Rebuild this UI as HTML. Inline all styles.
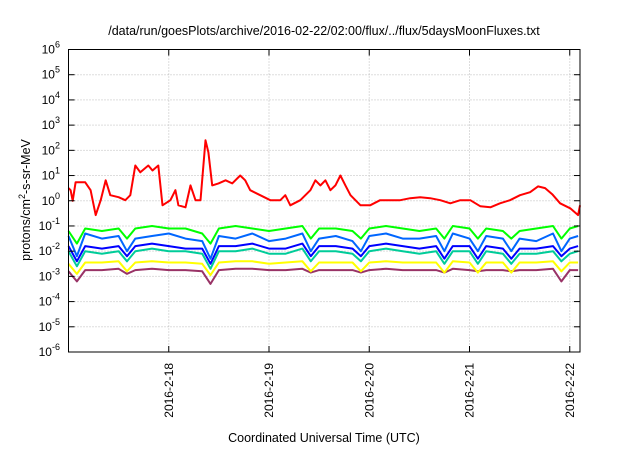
<!DOCTYPE html>
<html><head><meta charset="utf-8"><style>
body{margin:0;background:#fff;}
svg text{font-family:"Liberation Sans",sans-serif;fill:#000;}
</style></head><body>
<svg id="chart" width="640" height="448" viewBox="0 0 640 448">
<text x="324" y="35" font-size="12.5" text-anchor="middle">/data/run/goesPlots/archive/2016-02-22/02:00/flux/../flux/5daysMoonFluxes.txt</text>
<g id="grid"></g>
<g id="series"></g>
<rect x="68.5" y="49.5" width="511.5" height="302.5" fill="none" stroke="#000" stroke-width="1"/>
<g id="axes"></g>
<text transform="translate(30,200) rotate(-90)" font-size="12.5" text-anchor="middle">protons/cm<tspan dy="-5" font-size="9">2</tspan><tspan dy="5">-s-sr-MeV</tspan></text>
<text x="324" y="442" font-size="12.5" text-anchor="middle">Coordinated Universal Time (UTC)</text>
</svg>
<script>
const yExps=[6,5,4,3,2,1,0,-1,-2,-3,-4,-5,-6];
const xTickDays=[1,2,3,4,5];
const xTickLabels=["2016-2-18","2016-2-19","2016-2-20","2016-2-21","2016-2-22"];
const redHours=[0,0.5,1,1.7,4,5.3,6.5,7.7,8.9,10,12,13.6,14.8,16,17.2,19.1,20.1,21.5,22.5,24.4,25.6,26.3,28,29.2,30.4,31.6,32.8,33.5,34.4,35.9,37.6,39.2,41.1,42.3,43.5,45.9,48.3,50.7,51.9,53.1,55.5,57.9,59.1,60.3,61.5,62.7,63.9,65.1,66.3,67.5,69.9,72.2,74.6,77,79.4,81.8,84.2,86.6,89,91.4,93.8,96.2,98.6,101,103.3,105.7,108.1,110.5,112.4,114.1,115.8,117.7,120.1,122,122.5];
const redLog=[0.5,0.42,0,0.73,0.73,0.42,-0.57,0.02,0.81,0.22,0.14,0.02,0.22,1.4,1.13,1.4,1.2,1.4,-0.18,0.02,0.42,-0.18,-0.26,0.61,0.02,0.02,2.4,1.92,0.61,0.69,0.81,0.69,1.0,0.81,0.42,0.22,0.02,0.02,0.22,-0.18,0.02,0.42,0.81,0.61,0.81,0.42,0.61,1.0,0.61,0.22,-0.18,-0.18,0.02,0.02,0.02,0.1,0.14,0.1,0.02,-0.1,0.02,0.02,-0.22,-0.26,-0.1,0.02,0.22,0.34,0.57,0.5,0.26,-0.1,-0.3,-0.57,-0.18];
const baseHours=[0,2,4,8,12,14,16,20,24,28,32,34,36,40,44,48,52,56,58,60,64,68,70,72,76,80,84,88,90,92,96,98,100,104,106,108,112,116,118,120,122];
const greenLog=[-1.2,-1.7,-1.1,-1.2,-1.1,-1.5,-1.1,-1.0,-1.1,-1.1,-1.3,-1.7,-1.1,-1.0,-1.1,-1.2,-1.1,-1.0,-1.5,-1.1,-1.1,-1.2,-1.5,-1.1,-1.0,-1.1,-1.2,-1.1,-1.5,-1.0,-1.1,-1.5,-1.1,-1.2,-1.5,-1.2,-1.1,-1.0,-1.5,-1.1,-1.0];
const skyLog=[-1.4,-2.2,-1.3,-1.5,-1.4,-2.0,-1.5,-1.4,-1.3,-1.5,-1.6,-2.3,-1.4,-1.5,-1.3,-1.6,-1.5,-1.3,-2.0,-1.5,-1.4,-1.6,-2.0,-1.4,-1.3,-1.5,-1.5,-1.4,-2.0,-1.3,-1.5,-2.0,-1.4,-1.5,-2.0,-1.5,-1.6,-1.3,-2.0,-1.5,-1.4];
const blueLog=[-1.8,-2.4,-1.8,-1.9,-1.8,-2.2,-1.8,-1.7,-1.8,-1.9,-1.9,-2.5,-1.8,-1.8,-1.7,-1.9,-1.9,-1.7,-2.2,-1.8,-1.8,-1.9,-2.2,-1.8,-1.7,-1.8,-1.9,-1.8,-2.3,-1.8,-1.8,-2.3,-1.8,-1.9,-2.3,-1.9,-1.9,-1.8,-2.2,-1.9,-1.8];
const tealLog=[-2.0,-2.6,-2.0,-2.1,-2.0,-2.4,-2.0,-1.9,-2.0,-2.0,-2.1,-2.7,-2.0,-2.0,-1.9,-2.1,-2.1,-1.9,-2.4,-2.0,-2.0,-2.1,-2.4,-2.0,-1.9,-2.0,-2.1,-2.0,-2.5,-2.0,-2.0,-2.5,-2.0,-2.1,-2.5,-2.1,-2.1,-2.0,-2.4,-2.1,-2.0];
const yellowLog=[-2.5,-2.9,-2.45,-2.45,-2.4,-2.8,-2.45,-2.4,-2.45,-2.45,-2.5,-2.95,-2.45,-2.4,-2.4,-2.5,-2.45,-2.4,-2.8,-2.45,-2.45,-2.45,-2.8,-2.45,-2.4,-2.45,-2.45,-2.45,-2.85,-2.4,-2.45,-2.85,-2.45,-2.45,-2.85,-2.45,-2.45,-2.4,-2.8,-2.45,-2.45];
const purpleLog=[-2.8,-3.2,-2.75,-2.75,-2.7,-2.9,-2.75,-2.7,-2.75,-2.75,-2.8,-3.3,-2.75,-2.7,-2.7,-2.75,-2.75,-2.7,-2.85,-2.75,-2.75,-2.75,-2.85,-2.75,-2.7,-2.75,-2.75,-2.75,-2.85,-2.7,-2.75,-2.8,-2.75,-2.75,-2.8,-2.75,-2.75,-2.7,-3.2,-2.75,-2.75];

const L=68.5,R=580,T=49.5,B=352,PXDAY=100.25;
const xs=h=>Math.min(R,L+h/24*PXDAY);
const ys=lg=>T+(6-lg)*(B-T)/12;
const NS='http://www.w3.org/2000/svg';
function mk(tag,attrs,parent){const e=document.createElementNS(NS,tag);for(const k in attrs)e.setAttribute(k,attrs[k]);parent.appendChild(e);return e;}
const grid=document.getElementById('grid'),axes=document.getElementById('axes'),ser=document.getElementById('series');
yExps.forEach(ex=>{
  const y=ys(ex);
  if(ex<6&&ex>-6){const g=mk('line',{x1:L,x2:R,y1:y,y2:y,stroke:'#bbb','stroke-dasharray':'1,2'},grid);
  
  }
  const t1=mk('line',{x1:L,x2:L+6,y1:y,y2:y,stroke:'#000'},axes);
  
  
  const t2=mk('line',{x1:R-6,x2:R,y1:y,y2:y,stroke:'#000'},axes);
  
  
  const tx=mk('text',{x:60,y:y+4,'font-size':'12','text-anchor':'end'},axes);
  
  
  tx.textContent='10';
  const sup=mk('tspan',{dy:'-6','font-size':'9'},tx);sup.textContent=String(ex);
});
xTickDays.forEach((d,i)=>{
  const x=xs(d*24);
  const g=mk('line',{x1:x,x2:x,y1:T,y2:B,stroke:'#bbb','stroke-dasharray':'1,2'},grid);
  
  
  const t1=mk('line',{x1:x,x2:x,y1:B-6,y2:B,stroke:'#000'},axes);
  
  
  const t2=mk('line',{x1:x,x2:x,y1:T,y2:T+6,stroke:'#000'},axes);
  
  
  const tx=mk('text',{transform:`translate(${x+4},363) rotate(-90)`,'font-size':'12','text-anchor':'end'},axes);
  
  
  tx.textContent=xTickLabels[i];
});
function line(hours,vals,color,name){
  const pts=hours.map((h,i)=>xs(h).toFixed(1)+','+ys(vals[i]).toFixed(1)).join(' ');
  const p=mk('polyline',{points:pts,fill:'none',stroke:color,'stroke-width':'2','stroke-linejoin':'round'},ser);
  
  
}
line(baseHours,purpleLog,'#993366','series-purple');
line(baseHours,yellowLog,'#ffff00','series-yellow');
line(baseHours,tealLog,'#00cc99','series-teal');
line(baseHours,blueLog,'#0000ff','series-blue');
line(baseHours,skyLog,'#0066ff','series-skyblue');
line(baseHours,greenLog,'#00ff00','series-green');
line(redHours,redLog,'#ff0000','series-red');
</script>
</body></html>
